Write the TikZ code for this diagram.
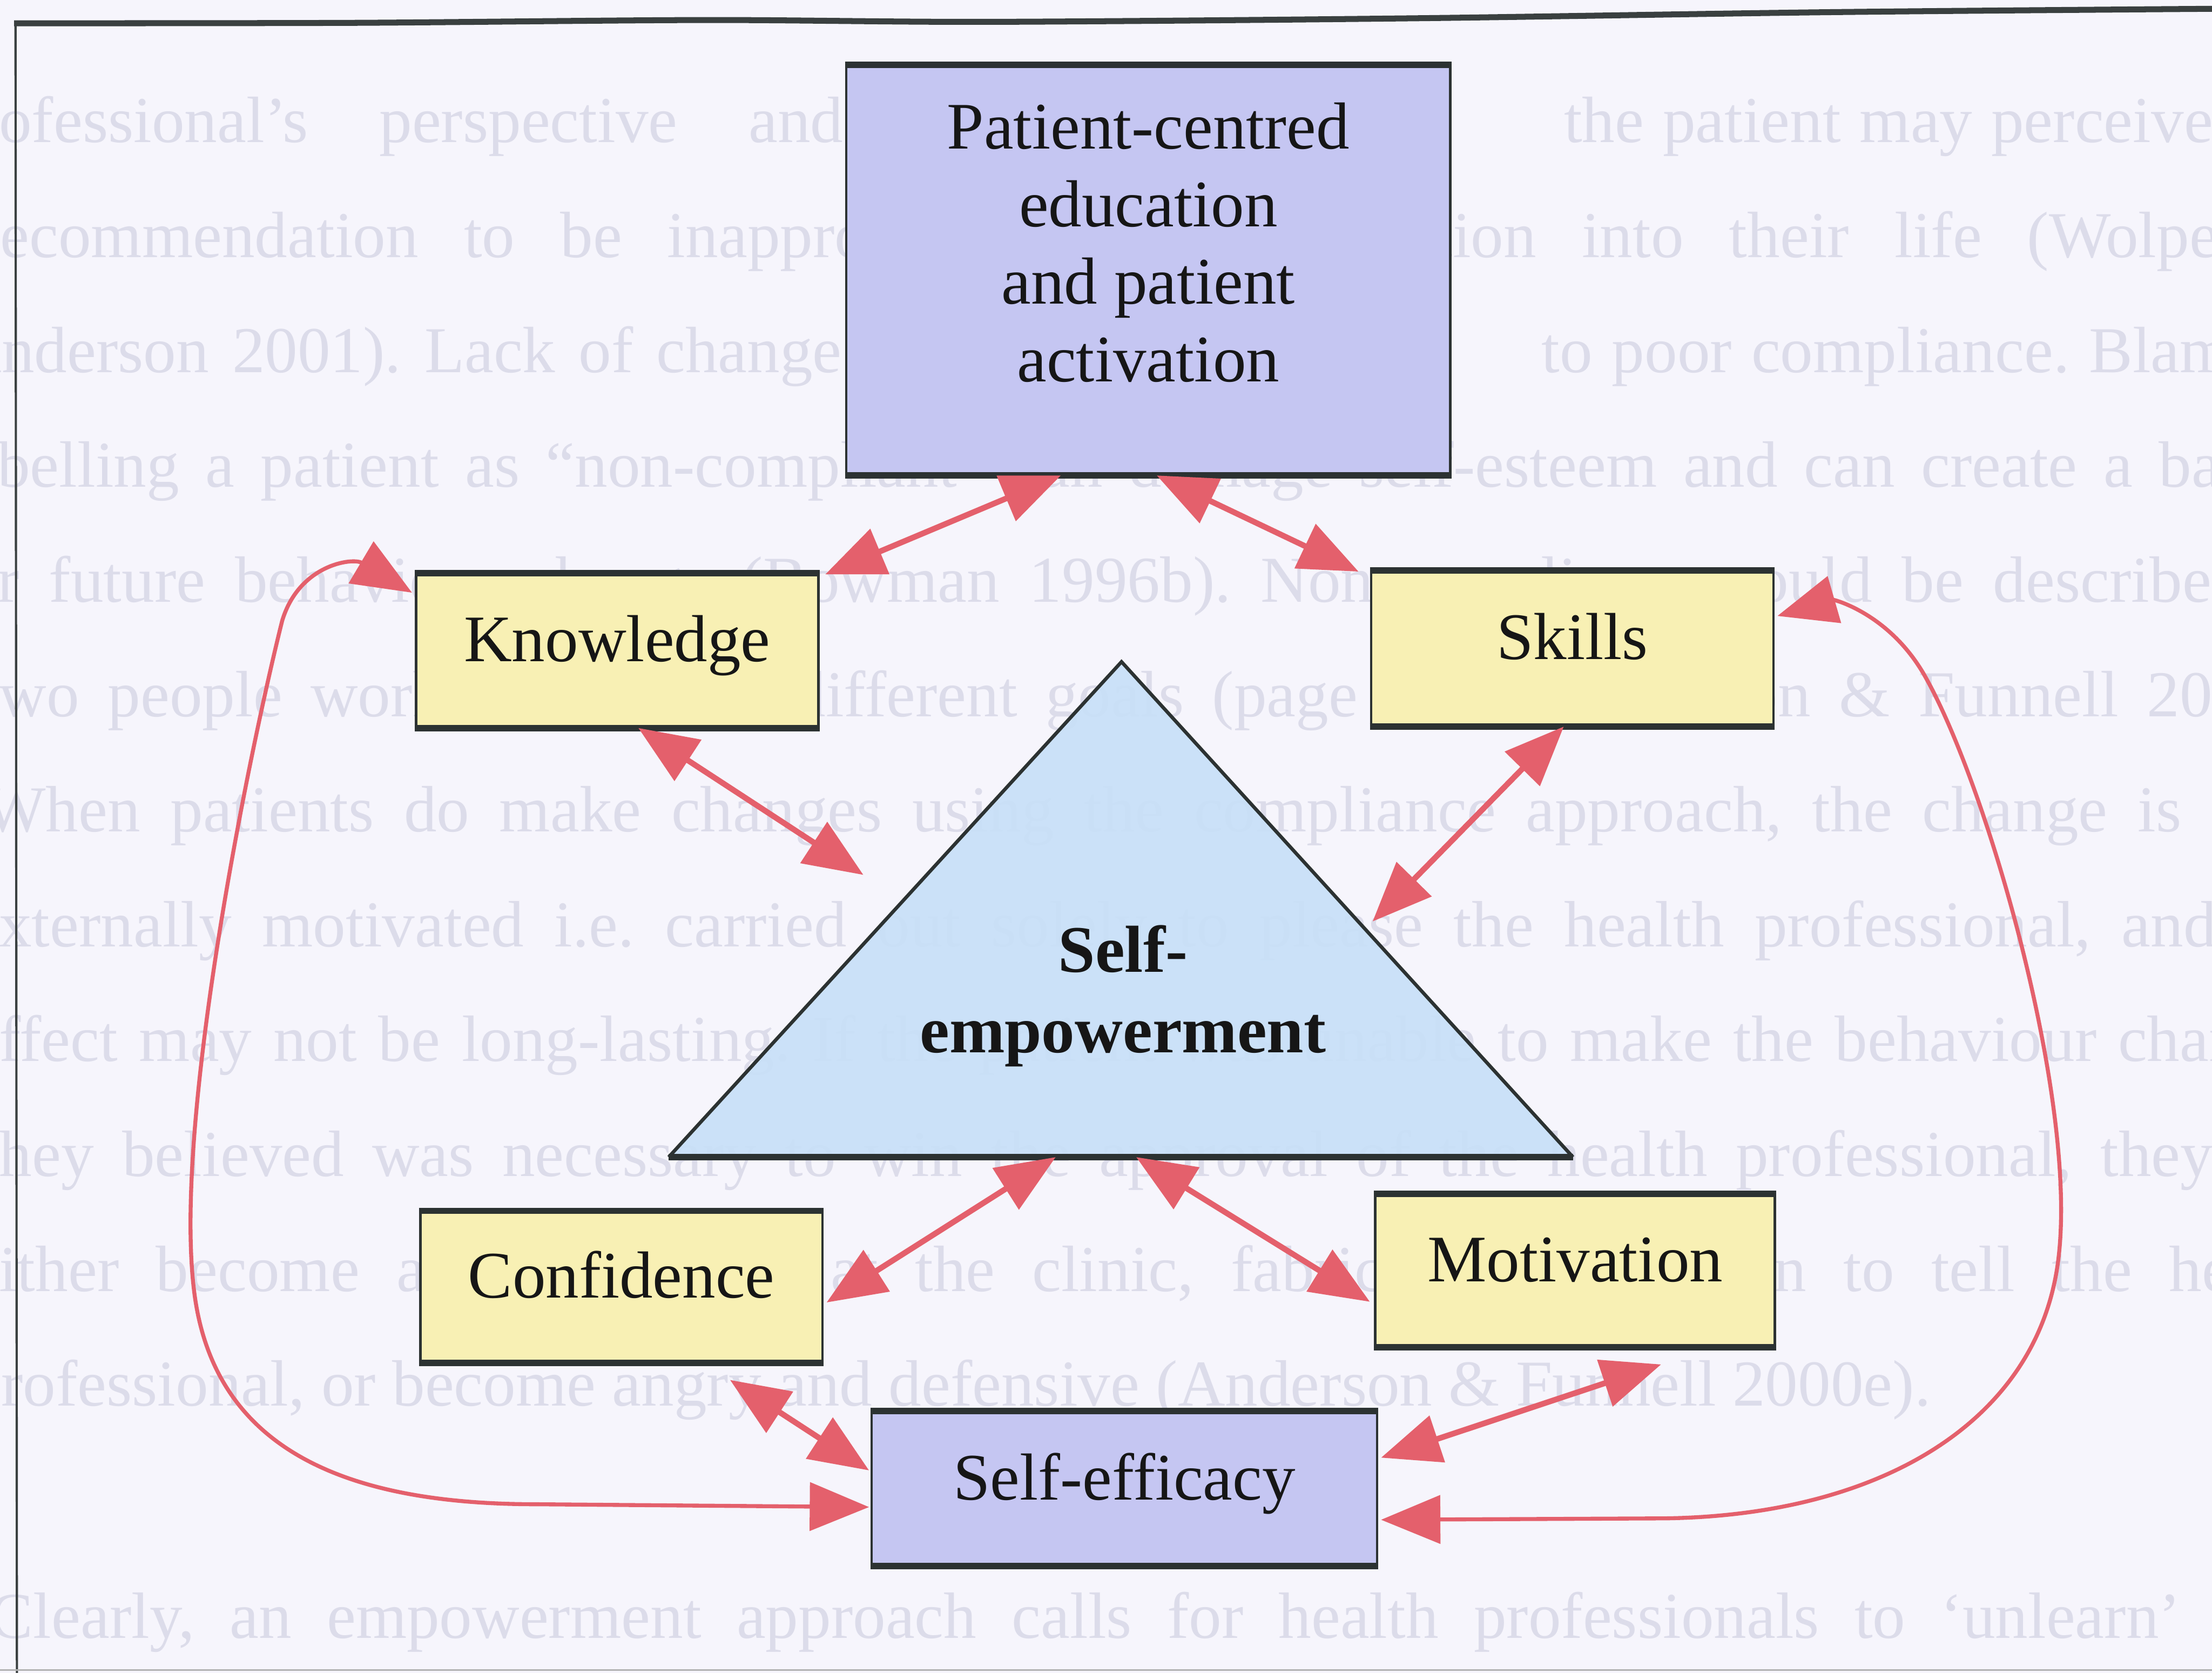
\documentclass[tikz,border=0pt]{standalone}
\usepackage{fontspec}
\setmainfont{Liberation Serif}
\usetikzlibrary{arrows.meta,calc}

\definecolor{pagebg}{HTML}{F6F5FC}
\definecolor{ghost}{HTML}{DCDCEA}
\definecolor{framecol}{HTML}{3A4040}
\definecolor{edgecol}{HTML}{2C3232}
\definecolor{lav}{HTML}{C5C6F2}
\definecolor{pale}{HTML}{F8F0B4}
\definecolor{sky}{HTML}{C8E0F8}
\definecolor{linkred}{HTML}{E4606C}
\definecolor{ink}{HTML}{161616}

\newdimen\pxunit \pxunit=0.01cm
% one justified line of the page text lying under the figure
\newcommand{\ghostline}[5]{\node[ghosttext, anchor=base west] (#1) at (#2,#3) {\makebox[#4\pxunit][s]{#5}};}

\begin{document}
\begin{tikzpicture}[x=0.01cm, y=-0.01cm,
  ghosttext/.style={inner sep=0pt, text=ghost, font=\fontsize{13.2}{15}\selectfont\frenchspacing},
  panel/.style={draw=edgecol, line width=0.5pt, inner sep=0pt, text=ink,
    font=\fontsize{13.4}{15.65}\selectfont, text height=9.15pt, text depth=4.7pt},
  yellowbox/.style={panel, fill=pale, minimum width=2.85cm, minimum height=1.08cm},
  lavbox/.style={panel, fill=lav},
  boxtext/.style={inner sep=0pt, text=ink, align=center, font=\fontsize{13.4}{15.65}\selectfont},
  rim/.style={draw=edgecol, line width=1.3pt},
  link/.style={draw=linkred, line width=1.15pt, >={Triangle[length=0.42cm,width=0.34cm]}, <->},
  bigloop/.style={link, line width=0.8pt}
]
\useasboundingbox (0,0) rectangle (1568,1185.4);
\clip (0,0) rectangle (1568,1185.4);
\fill[pagebg] (0,0) rectangle (1568,1185.4);

% page text behind the figure
\ghostline{g1a}{-40}{101}{637}{professional’s perspective and}
\ghostline{g1b}{1108}{101}{460}{the patient may perceive}
\ghostline{g2}{-16}{182.4}{1616}{recommendation to be inappropriate for incorporation into their life (Wolpert}
\ghostline{g3a}{-33}{263.8}{629}{Anderson 2001). Lack of change}
\ghostline{g3b}{1092}{263.8}{548}{to poor compliance. Blaming}
\ghostline{g4}{-36}{345.2}{1689}{labelling a patient as “non-compliant” can damage self-esteem and can create a barrier}
\ghostline{g5}{-41}{426.6}{1631}{for future behaviour change (Bowman 1996b). Non-compliance could be described}
\ghostline{g6}{-14}{508}{1628}{two people working towards different goals (page 161) (Anderson \& Funnell 2000}
\ghostline{g7}{-12}{589.4}{1674}{When patients do make changes using the compliance approach, the change is often}
\ghostline{g8}{-22}{670.8}{1592}{externally motivated i.e. carried out solely to please the health professional, and}
\ghostline{g9}{-22}{752.2}{1654}{effect may not be long-lasting. If the patient was unable to make the behaviour change}
\ghostline{g10}{-14}{833.6}{1582}{they believed was necessary to win the approval of the health professional, they}
\ghostline{g11}{-22}{915}{1672}{either become a non-attender at the clinic, fabricate information to tell the health}
\node[ghosttext, anchor=base west] (g12) at (-23,996.4) {professional, or become angry and defensive (Anderson \& Funnell 2000e).};
\ghostline{g13}{-8}{1161}{1553}{Clearly, an empowerment approach calls for health professionals to ‘unlearn’}

% frame
\draw[framecol, line width=1.2pt] plot[smooth] coordinates {(10,16.5) (250,16.2) (500,14.2) (700,15.5) (1000,13) (1300,8.6) (1600,6)};
\draw[framecol, line width=0.45pt] (11,16.5) -- (12,1190);
\draw[gray!60, line width=0.4pt] (0,1183.5) -- (1568,1183.5);

% boxes
\node[lavbox, minimum width=4.28cm, minimum height=2.89cm] (pce) at (814,191.5) {};
\node[boxtext, anchor=north] (pcetext) at (814,72) {Patient-centred\\education\\and patient\\activation};
\node[yellowbox] (know) at (437.5,461) {Knowledge};
\node[yellowbox, minimum height=1.09cm] (skill) at (1114.5,459.5) {Skills};
\node[yellowbox, minimum height=1.06cm] (conf) at (440.5,912) {Confidence};
\node[yellowbox, minimum width=2.83cm, minimum height=1.07cm] (motiv) at (1116.5,900.5) {Motivation};
\node[lavbox, minimum width=3.58cm, minimum height=1.08cm] (seff) at (797,1055) {Self-efficacy};
\foreach \n in {pce,know,skill,conf,motiv,seff} {
  \draw[rim] (\n.north west) -- (\n.north east);
  \draw[rim] (\n.south west) -- (\n.south east);
}

% triangle
\coordinate (tapex) at (795,469);
\coordinate (tleft) at (474,820);
\coordinate (tright) at (1115,820);
\fill[sky, opacity=0.92] (tapex) -- (tright) -- (tleft) -- cycle;
\draw[edgecol, line width=0.7pt, line join=miter] (tleft) -- (tapex) -- (tright);
\draw[rim] (tleft) -- (tright);
\node[boxtext, anchor=north, font=\fontsize{13.4}{16.2}\selectfont\bfseries] (emp) at (796,655) {Self-\\empowerment};

% connectors
\coordinate (kt) at (612,620);
\coordinate (st) at (973,653);
\draw[link] ($(pce.south)+(-62,0)$) -- ($(know.north east)+(4,1)$);
\draw[link] ($(pce.south)+(6,0)$) -- ($(skill.north west)+(-8,1)$);
\draw[link] ($(know.south)+(15,0)$) -- (kt);
\draw[link] ($(skill.south)+(-6,0)$) -- (st);
\draw[link] ($(tleft)!0.428!(tright)$) -- ($(conf.east)+(2,11)$);
\draw[link] ($(tleft)!0.517!(tright)$) -- ($(motiv.west)+(-3,22)$);
\draw[link] ($(conf.south)+(77,12)$) -- ($(seff.west)+(-1,-13)$);
\draw[link] ($(motiv.south)+(61,12)$) -- ($(seff.east)+(2,-22)$);

% outer loops
\coordinate (knowL) at ($(know.west)+(-2,-41)$);
\coordinate (seffL) at ($(seff.west)+(-1,13)$);
\coordinate (seffR) at ($(seff.east)+(2,22)$);
\coordinate (skillR) at ($(skill.east)+(2,-23)$);
\draw[bigloop] (seffL) -- (380,1066) .. controls (250,1066) and (160,1030) .. (140,930)
  .. controls (118,820) and (175,540) .. (200,440) .. controls (212,400) and (250,395) .. (knowL);
\draw[bigloop] (seffR) -- (1180,1076) .. controls (1330,1074) and (1440,1010) .. (1458,900)
  .. controls (1476,790) and (1410,560) .. (1365,480) .. controls (1340,435) and (1300,425) .. (skillR);
\end{tikzpicture}
\end{document}
